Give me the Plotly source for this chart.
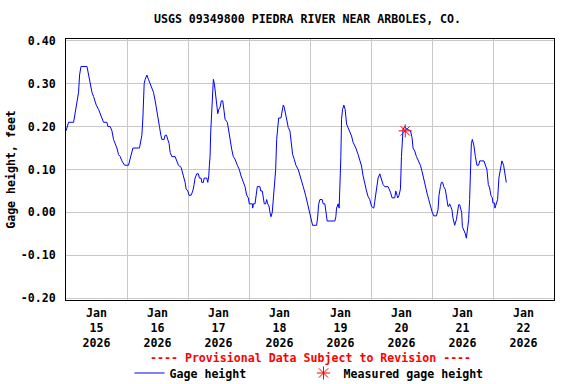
import pandas as pd
import plotly.graph_objects as go

# Gage height series: hours since 2026-01-15 00:00 and gage height (feet)
hours = [0.00, 0.39, 1.02, 2.99, 3.26, 3.77, 4.32, 4.95, 5.34, 5.89, 8.25, 8.88, 9.55, 10.21, 10.84,
         11.90, 12.81, 13.47, 14.14, 14.77, 16.10, 16.50, 17.40, 18.07, 18.70, 19.37, 20.03, 20.66,
         21.33, 22.00, 23.02, 24.59, 24.98, 25.92, 26.32, 28.91, 29.18, 29.85, 30.25, 30.48, 30.76,
         31.15, 31.82, 32.44, 33.11, 33.78, 34.41, 35.08, 35.74, 36.37, 36.77, 37.32, 37.71, 38.61,
         39.00, 39.52, 39.91, 40.58, 40.97, 41.64, 42.93, 43.60, 44.23, 45.29, 45.56, 46.19, 46.86,
         47.25, 47.92, 48.43, 49.22, 49.89, 50.40, 50.79, 51.46, 52.09, 52.48, 53.15, 53.42, 54.05,
         54.33, 55.38, 55.78, 56.17, 56.41, 56.68, 56.96, 57.35, 57.74, 57.98, 58.37, 58.76, 59.31,
         59.71, 60.10, 60.61, 61.12, 61.67, 62.18, 62.58, 63.48, 63.87, 64.54, 65.20, 65.83, 66.50,
         67.40, 68.19, 68.86, 69.76, 70.43, 71.10, 71.72, 72.12, 73.30, 73.45, 73.69, 74.36, 74.75,
         75.26, 76.32, 76.60, 77.22, 77.62, 78.01, 78.56, 78.96, 79.35, 79.86, 80.25, 80.65, 81.15,
         81.55, 81.94, 82.49, 82.89, 83.28, 83.67, 84.57, 84.97, 85.48, 85.87, 86.42, 86.81, 87.44,
         88.10, 88.50, 89.17, 89.79, 90.46, 91.37, 92.03, 92.70, 93.33, 94.27, 94.90, 95.69, 96.35,
         97.02, 98.59, 98.99, 99.38, 99.89, 100.79, 101.18, 101.85, 102.25, 102.76, 105.78, 106.17,
         106.45, 107.08, 107.47, 107.74, 108.14, 108.41, 108.81, 109.32, 109.83, 110.38, 111.01,
         111.67, 112.34, 112.97, 114.03, 114.93, 115.60, 116.27, 116.90, 117.56, 118.23, 118.86,
         119.53, 120.20, 121.10, 121.49, 122.16, 122.79, 123.46, 124.12, 124.75, 125.42, 126.72,
         127.66, 128.29, 129.35, 129.74, 130.25, 130.53, 131.04, 131.59, 131.98, 132.37, 132.61,
         133.28, 133.95, 135.52, 136.15, 136.54, 137.21, 137.88, 138.78, 139.44, 140.07, 140.74,
         141.41, 142.04, 142.71, 143.37, 144.00, 144.67, 145.73, 146.36, 146.75, 147.30, 147.69,
         148.20, 148.60, 149.26, 149.66, 150.29, 150.56, 150.95, 151.35, 151.86, 152.25, 152.92,
         153.59, 153.98, 154.49, 154.89, 155.28, 155.67, 155.95, 156.46, 157.12, 157.52, 157.91,
         158.42, 158.81, 159.09, 159.48, 159.88, 160.51, 161.06, 161.68, 162.35, 162.75, 164.43,
         164.98, 165.61, 166.16, 166.67, 167.18, 167.73, 167.97, 168.63, 168.75, 169.30, 169.81,
         170.32, 170.87, 171.26, 171.50, 172.17, 172.56, 172.95, 173.23]

gage_height = [0.19, 0.20, 0.21, 0.21, 0.22, 0.24, 0.26, 0.28, 0.32, 0.34, 0.34, 0.32, 0.30, 0.28, 0.27,
               0.25, 0.24, 0.23, 0.22, 0.21, 0.21, 0.20, 0.20, 0.19, 0.17, 0.16, 0.15, 0.135,
               0.13, 0.12, 0.11, 0.11, 0.12, 0.14, 0.15, 0.15, 0.16, 0.18, 0.22, 0.26, 0.30,
               0.31, 0.32, 0.31, 0.30, 0.29, 0.28, 0.26, 0.24, 0.22, 0.20, 0.18, 0.17, 0.17,
               0.18, 0.18, 0.17, 0.16, 0.14, 0.13, 0.13, 0.12, 0.11, 0.105, 0.10, 0.085, 0.07,
               0.055, 0.05, 0.04, 0.04, 0.05, 0.065, 0.08, 0.09, 0.09, 0.08, 0.08, 0.07, 0.07,
               0.08, 0.08, 0.07, 0.085, 0.11, 0.13, 0.19, 0.245, 0.28, 0.31, 0.30, 0.28, 0.25,
               0.23, 0.24, 0.245, 0.26, 0.26, 0.237, 0.217, 0.21, 0.194, 0.17, 0.147, 0.13, 0.124,
               0.11, 0.10, 0.085, 0.073, 0.06, 0.04, 0.034, 0.02, 0.02, 0.01, 0.02, 0.02, 0.045,
               0.06, 0.06, 0.05, 0.05, 0.034, 0.02, 0.02, 0.03, 0.02, 0.015, 0.00, -0.01, 0.00,
               0.03, 0.065, 0.10, 0.17, 0.205, 0.22, 0.22, 0.23, 0.25, 0.245, 0.225, 0.213, 0.198,
               0.19, 0.163, 0.135, 0.124, 0.11, 0.10, 0.088, 0.077, 0.06, 0.04, 0.022, 0.006, -0.013,
               -0.03, -0.03, -0.013, 0.018, 0.03, 0.03, 0.02, 0.02, 0.00, -0.02, -0.02, -0.01,
               0.01, 0.02, 0.01, 0.055, 0.13, 0.217, 0.24, 0.25, 0.24, 0.206, 0.198,
               0.19, 0.178, 0.163, 0.15, 0.135, 0.12, 0.108, 0.085, 0.065, 0.05, 0.037,
               0.03, 0.014, 0.01, 0.026, 0.057, 0.08, 0.09, 0.077, 0.065, 0.06, 0.06,
               0.047, 0.034, 0.034, 0.05, 0.04, 0.034, 0.04, 0.055, 0.13, 0.186, 0.194,
               0.20, 0.195, 0.19, 0.174, 0.15, 0.143, 0.13, 0.12, 0.11, 0.096, 0.077,
               0.06, 0.045, 0.03, 0.014, 0.002, -0.008, -0.008, 0.006, 0.04, 0.06, 0.07,
               0.07, 0.06, 0.053, 0.037, 0.014, 0.014, 0.02, 0.014, 0.006, -0.013, -0.03,
               -0.017, 0.00, 0.018, 0.018, 0.01, 0.00, -0.033, -0.04, -0.05, -0.06, -0.037,
               -0.017, 0.03, 0.08, 0.16, 0.17, 0.155, 0.13, 0.11, 0.11, 0.12, 0.12,
               0.11, 0.10, 0.065, 0.057, 0.04, 0.034, 0.022, 0.022, 0.01, 0.02, 0.03,
               0.08, 0.096, 0.11, 0.12, 0.11, 0.096, 0.09, 0.07]

# Measured gage height
measured_hours = [133.47]
measured_height = [0.19]

start = pd.Timestamp("2026-01-15 00:00")
times = start + pd.to_timedelta(hours, unit="h")
measured_times = start + pd.to_timedelta(measured_hours, unit="h")

day_labels = ["Jan<br>15<br>2026", "Jan<br>16<br>2026", "Jan<br>17<br>2026", "Jan<br>18<br>2026",
              "Jan<br>19<br>2026", "Jan<br>20<br>2026", "Jan<br>21<br>2026", "Jan<br>22<br>2026"]
label_times = [start + pd.Timedelta(days=i, hours=12) for i in range(8)]
midnights = [start + pd.Timedelta(days=i) for i in range(9)]

FONT = "DejaVu Sans Mono"
FS = 11.6

fig = go.Figure()
fig.add_trace(go.Scatter(x=times, y=gage_height, mode="lines", name="Gage height",
                         line=dict(color="#0000ff", width=1), legend="legend"))
fig.add_trace(go.Scatter(x=measured_times, y=measured_height, mode="markers",
                         name="Measured gage height", legend="legend2",
                         marker=dict(symbol="asterisk-open", size=11, color="#ff0000",
                                     line=dict(color="#ff0000", width=1))))

legend_common = dict(orientation="h", xanchor="left", yanchor="middle",
                     xref="container", yref="container",
                     font=dict(family=FONT, size=FS, weight="bold"),
                     itemwidth=30, bgcolor="rgba(0,0,0,0)")

fig.update_layout(
    width=576, height=384,
    margin=dict(l=66, r=22, t=39, b=84),
    paper_bgcolor="white", plot_bgcolor="white",
    font=dict(family=FONT, size=FS, color="black", weight="bold"),
    title=dict(text="USGS 09349800 PIEDRA RIVER NEAR ARBOLES, CO.", x=307.5 / 576, xanchor="center",
               y=1 - 19 / 384, yanchor="middle", yref="container", xref="container",
               font=dict(family=FONT, size=FS, color="black", weight="bold")),
    showlegend=True,
    legend=dict(x=129.5 / 576, y=1 - 373 / 384, **legend_common),
    legend2=dict(x=303.5 / 576, y=1 - 373 / 384, **legend_common),
    annotations=[dict(text="---- Provisional Data Subject to Revision ----", xref="paper",
                      yref="paper", x=0.5, y=-58 / 261, xanchor="center", yanchor="middle",
                      showarrow=False, font=dict(family=FONT, size=FS, color="#ff0000", weight="bold"))],
)

fig.update_xaxes(
    range=[midnights[0], midnights[-1]], automargin=False,
    tickmode="array", tickvals=label_times, ticktext=day_labels,
    showgrid=False, ticks="outside", ticklen=2, tickcolor="rgba(0,0,0,0)",
    tickfont=dict(family=FONT, size=FS, weight="bold"),
    minor=dict(tickmode="array", tickvals=midnights, showgrid=True, gridcolor="#c8c8c8",
               gridwidth=1, ticks=""),
    showline=True, mirror=True, linecolor="black", linewidth=1, zeroline=False,
)
fig.update_yaxes(
    range=[-0.204, 0.404], automargin=False, tickmode="array",
    tickvals=[-0.2, -0.1, 0.0, 0.1, 0.2, 0.3, 0.4],
    ticktext=["-0.20", "-0.10", "0.00", "0.10", "0.20", "0.30", "0.40"],
    showgrid=True, gridcolor="#c8c8c8", gridwidth=1, zeroline=False,
    ticks="outside", ticklen=7, tickcolor="rgba(0,0,0,0)",
    tickfont=dict(family=FONT, size=FS, weight="bold"),
    title=dict(text="Gage height, feet", font=dict(family=FONT, size=FS, weight="bold"), standoff=2),
    showline=True, mirror=True, linecolor="black", linewidth=1,
)

fig.write_html("out.html", config={"displayModeBar": False},
               post_script="document.body.style.margin='0';")
